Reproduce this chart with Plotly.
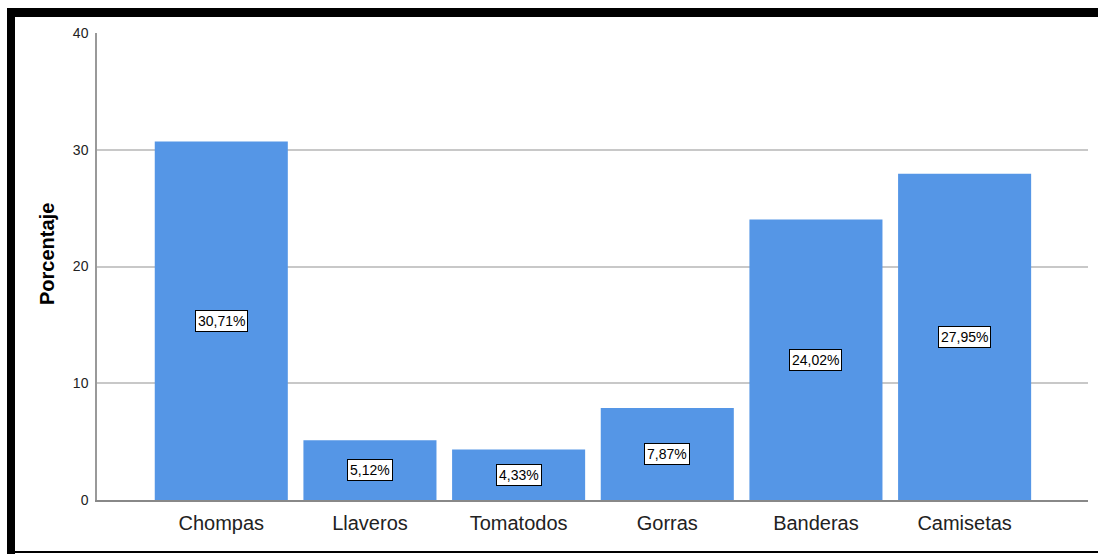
import plotly.graph_objects as go

categories = ["Chompas", "Llaveros", "Tomatodos", "Gorras", "Banderas", "Camisetas"]
porcentajes = [30.71, 5.12, 4.33, 7.87, 24.02, 27.95]
y_ticks = [0, 10, 20, 30, 40]

W, H = 1098, 554
L, R, T, B = 97, 10, 33, 54
pw, ph = W - L - R, H - T - B
FONT = "Arial, Liberation Sans, sans-serif"


def px_x(x):
    return (x - L) / pw


def px_y(y):
    return (H - B - y) / ph


fig = go.Figure(
    go.Bar(
        x=categories,
        y=porcentajes,
        marker=dict(color="rgb(85,150,230)", line=dict(width=0)),
        width=0.895,
        hoverinfo="skip",
    )
)

# value labels centred in each bar
for cat, v in zip(categories, porcentajes):
    fig.add_annotation(
        x=cat, y=v / 2, text=f"{v:.2f}%".replace(".", ","),
        showarrow=False, bgcolor="white", bordercolor="black", borderwidth=1,
        borderpad=2, font=dict(family=FONT, size=14, color="black"),
    )

# y-axis title
fig.add_annotation(
    xref="paper", yref="paper", x=px_x(47), y=px_y(254),
    xanchor="center", yanchor="middle",
    text="<b>Porcentaje</b>", textangle=-90, showarrow=False,
    font=dict(family=FONT, size=20, color="black"),
)

# frame around the figure
frame = "black"
fig.add_shape(type="rect", xref="paper", yref="paper",
              x0=px_x(7), x1=px_x(1100), y0=px_y(8), y1=px_y(17),
              fillcolor=frame, line=dict(width=0), layer="above")
fig.add_shape(type="rect", xref="paper", yref="paper",
              x0=px_x(7), x1=px_x(15), y0=px_y(8), y1=px_y(556),
              fillcolor=frame, line=dict(width=0), layer="above")
fig.add_shape(type="rect", xref="paper", yref="paper",
              x0=px_x(7), x1=px_x(1100), y0=px_y(551), y1=px_y(553),
              fillcolor=frame, line=dict(width=0), layer="above")

fig.update_layout(
    width=W, height=H,
    margin=dict(l=L, r=R, t=T, b=B),
    paper_bgcolor="white", plot_bgcolor="white",
    showlegend=False,
    font=dict(family=FONT, color="#222"),
    xaxis=dict(
        range=[-0.836, 5.83], showgrid=False, ticks="",
        showline=True, linecolor="#888", linewidth=1.5,
        tickfont=dict(size=20, color="#222"),
        ticklabelstandoff=4,
    ),
    yaxis=dict(
        range=[0, 40], tickvals=y_ticks, ticks="",
        showgrid=True, gridcolor="#c8c8c8", gridwidth=2,
        showline=True, linecolor="#999", linewidth=1.5,
        zeroline=False,
        tickfont=dict(size=14, color="#222"),
        ticklabelstandoff=4,
    ),
)

fig.write_html("out.html")
